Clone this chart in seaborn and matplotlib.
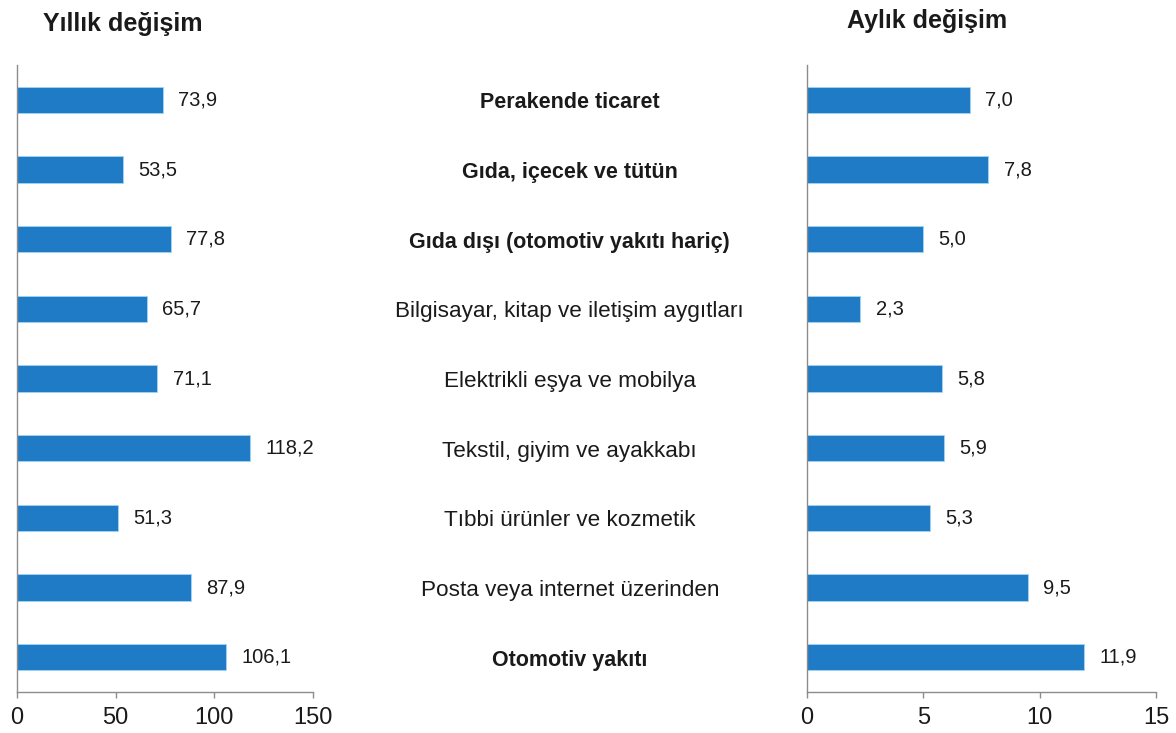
import matplotlib
matplotlib.use("Agg")
import matplotlib.pyplot as plt
import matplotlib.transforms as mtransforms
import seaborn as sns
import numpy as np

# Perakende satış hacmi değişimleri (%)
categories = [
    "Perakende ticaret",
    "Gıda, içecek ve tütün",
    "Gıda dışı (otomotiv yakıtı hariç)",
    "Bilgisayar, kitap ve iletişim aygıtları",
    "Elektrikli eşya ve mobilya",
    "Tekstil, giyim ve ayakkabı",
    "Tıbbi ürünler ve kozmetik",
    "Posta veya internet üzerinden",
    "Otomotiv yakıtı",
]
bold_categories = {"Perakende ticaret", "Gıda, içecek ve tütün",
                   "Gıda dışı (otomotiv yakıtı hariç)", "Otomotiv yakıtı"}
annual_change = [73.9, 53.5, 77.8, 65.7, 71.1, 118.2, 51.3, 87.9, 106.1]
monthly_change = [7.0, 7.8, 5.0, 2.3, 5.8, 5.9, 5.3, 9.5, 11.9]
annual_ticks = [0, 50, 100, 150]
monthly_ticks = [0, 5, 10, 15]
titles = ["Yıllık değişim", "Aylık değişim"]

sns.set_theme(style="white")
plt.rcParams["font.family"] = ["Liberation Sans", "DejaVu Sans"]

BAR_COLOR = "#1f7bc6"
AXIS_COLOR = "#8c8c8c"

fig = plt.figure(figsize=(11.76, 7.33), dpi=100)
ax_left = fig.add_axes([0.0145, 0.0559, 0.2517, 0.8554])
ax_right = fig.add_axes([0.6862, 0.0559, 0.2968, 0.8554])

# small downward nudge for text placed beside the bars
nudge = mtransforms.ScaledTranslation(0, -3 / 100, fig.dpi_scale_trans)


def draw_panel(ax, values, ticks):
    sns.barplot(x=values, y=categories, orient="h", ax=ax, color=BAR_COLOR,
                width=0.38, saturation=1, edgecolor="#9fd6f2", linewidth=0.6)
    ax.set_xlim(ticks[0], ticks[-1])
    ax.set_ylim(len(categories) - 0.5, -0.5)
    ax.set_xticks(ticks)
    ax.set_xticklabels([str(t) for t in ticks], fontsize=17, color="#1a1a1a")
    ax.set_yticks([])
    ax.set_ylabel("")
    ax.set_xlabel("")
    for side in ("top", "right"):
        ax.spines[side].set_visible(False)
    for side in ("left", "bottom"):
        ax.spines[side].set_color(AXIS_COLOR)
        ax.spines[side].set_linewidth(1.0)
    ax.tick_params(axis="x", direction="out", length=4, width=1,
                   color=AXIS_COLOR, pad=7, bottom=True)
    labels = [f"{v:.1f}".replace(".", ",") for v in values]
    texts = ax.bar_label(ax.containers[0], labels=labels, padding=11,
                         fontsize=14.5, color="#1a1a1a")
    for t in texts:
        t.set_transform(t.get_transform() + nudge)
    ax.set_facecolor("white")


draw_panel(ax_left, annual_change, annual_ticks)
draw_panel(ax_right, monthly_change, monthly_ticks)

# Category names between the two panels, aligned with the bars
trans = mtransforms.blended_transform_factory(fig.transFigure, ax_left.transData) + nudge
for i, name in enumerate(categories):
    is_bold = name in bold_categories
    ax_left.text(0.4845, i, name, transform=trans, ha="center", va="center",
                 fontsize=15.5 if is_bold else 16.2, color="#1a1a1a",
                 fontweight="bold" if is_bold else "normal",
                 clip_on=False)

fig.text(0.104, 0.967, titles[0], ha="center", va="center",
         fontsize=18, fontweight="bold", color="#1a1a1a")
fig.text(0.788, 0.972, titles[1], ha="center", va="center",
         fontsize=18, fontweight="bold", color="#1a1a1a")

fig.savefig("out.png", dpi=100, facecolor="white")
